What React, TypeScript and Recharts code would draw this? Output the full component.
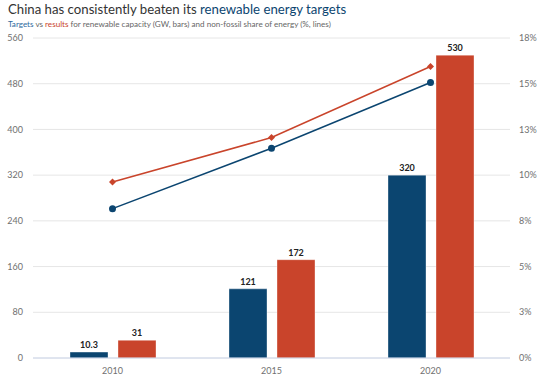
import React from "react";
import {
  ComposedChart,
  Bar,
  Line,
  XAxis,
  YAxis,
  CartesianGrid,
  LabelList,
} from "recharts";

const years = ["2010", "2015", "2020"];
const capacityTarget = [10.3, 121, 320];
const capacityResult = [31, 172, 530];
const shareTarget = [8.4, 11.8, 15.5];
const shareResult = [9.9, 12.4, 16.4];
const leftTicks = [0, 80, 160, 240, 320, 400, 480, 560];
const rightTicks = [0, 1, 2, 3, 4, 5, 6, 7].map((i) => (i * 18) / 7);

const NAVY = "#0b4570";
const RED = "#c9442b";
const FONT = "Lato, sans-serif";

const data = years.map((y, i) => ({
  year: y,
  capTarget: capacityTarget[i],
  capResult: capacityResult[i],
  shareTarget: shareTarget[i],
  shareResult: shareResult[i],
}));

const Diamond = (props: any) => {
  const { cx, cy } = props;
  if (cx == null || cy == null) return null;
  const s = 3.5;
  return (
    <polygon
      points={`${cx},${cy - s} ${cx + s},${cy} ${cx},${cy + s} ${cx - s},${cy}`}
      fill={RED}
    />
  );
};

const tickStyle = { fontSize: 9, fill: "#707070", fontFamily: FONT };
const labelStyle = { fontSize: 9, fill: "#222", fontFamily: FONT, fontWeight: 700 };

export default function App() {
  return (
    <div style={{ position: "absolute", left: 0, top: 0, width: 542, height: 376, background: "#fff" }}>
      <svg width={542} height={34} style={{ position: "absolute", left: 0, top: 0 }}>
        <text x={8} y={14} fontFamily={FONT} fontSize={13.2} fill="#333">
          China has consistently beaten its <tspan fill={NAVY}>renewable energy targets</tspan>
        </text>
        <text x={8} y={26.5} fontFamily={FONT} fontSize={8.1} fill="#666">
          <tspan fill="#2f6a9e">Targets</tspan> vs <tspan fill={RED}>results</tspan> for renewable capacity (GW, bars) and non-fossil share of energy (%, lines)
        </text>
      </svg>
      <div style={{ position: "absolute", left: 0, top: 0 }}>
        <ComposedChart
          width={542}
          height={376}
          data={data}
          margin={{ top: 38, right: 0, bottom: 0, left: 0 }}
          barGap={10}
        >
          <CartesianGrid vertical={false} stroke="#e6e6e6" yAxisId="left" />
          <XAxis
            dataKey="year"
            axisLine={{ stroke: "#ccd6eb" }}
            tickLine={false}
            tick={tickStyle}
            height={18}
            tickMargin={4}
          />
          <YAxis
            yAxisId="left"
            domain={[0, 560]}
            ticks={leftTicks}
            axisLine={false}
            tickLine={false}
            tickSize={0}
            tickMargin={10}
            width={33}
            tick={tickStyle}
            interval={0}
          />
          <YAxis
            yAxisId="right"
            orientation="right"
            domain={[0, 18]}
            ticks={rightTicks}
            axisLine={false}
            tickLine={false}
            tickSize={0}
            tickMargin={9}
            width={32}
            tick={tickStyle}
            interval={0}
            tickFormatter={(v: number) => `${Math.round(v)}%`}
          />
          <Bar yAxisId="left" dataKey="capTarget" fill={NAVY} barSize={38} stroke="rgba(255,255,255,0.35)" isAnimationActive={false}>
            <LabelList dataKey="capTarget" position="top" offset={4} style={labelStyle} />
          </Bar>
          <Bar yAxisId="left" dataKey="capResult" fill={RED} barSize={38} stroke="rgba(255,255,255,0.35)" isAnimationActive={false}>
            <LabelList dataKey="capResult" position="top" offset={4} style={labelStyle} />
          </Bar>
          <Line
            yAxisId="right"
            dataKey="shareResult"
            stroke={RED}
            strokeWidth={1.5}
            dot={<Diamond />}
            activeDot={false}
            isAnimationActive={false}
          />
          <Line
            yAxisId="right"
            dataKey="shareTarget"
            stroke={NAVY}
            strokeWidth={1.5}
            dot={{ r: 3.5, fill: NAVY, stroke: NAVY, strokeWidth: 0 }}
            activeDot={false}
            isAnimationActive={false}
          />
        </ComposedChart>
      </div>
    </div>
  );
}
